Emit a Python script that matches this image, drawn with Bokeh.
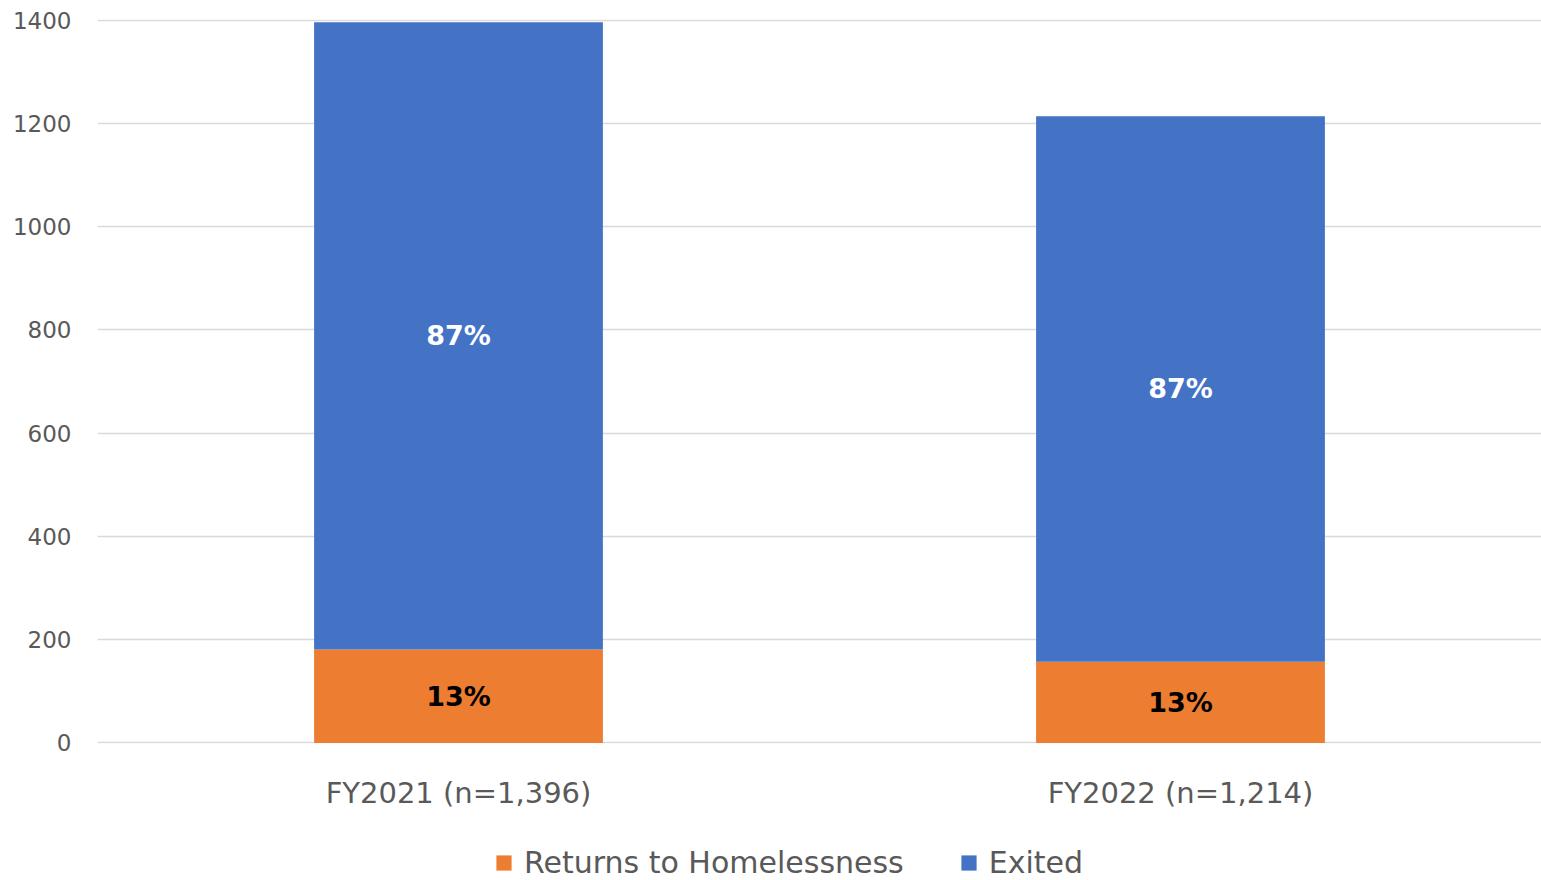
from bokeh.plotting import figure
from bokeh.layouts import column
from bokeh.models import ColumnDataSource, Legend, LegendItem, FactorRange, Range1d, FixedTicker
from bokeh.embed import file_html
from bokeh.resources import INLINE
from bokeh.core.properties import value

# ---- data ----
categories = ["FY2021 (n=1,396)", "FY2022 (n=1,214)"]
returns_to_homelessness = [181, 157]
exited = [1215, 1057]
series_names = ["Returns to Homelessness", "Exited"]
series_colors = ["#ED7D31", "#4472C4"]
y_tick_values = [0, 200, 400, 600, 800, 1000, 1200, 1400]

totals = [r + e for r, e in zip(returns_to_homelessness, exited)]
source = ColumnDataSource(dict(
    cat=categories,
    returns=returns_to_homelessness,
    exited=exited,
    ret_mid=[r / 2 for r in returns_to_homelessness],
    ex_mid=[r + e / 2 for r, e in zip(returns_to_homelessness, exited)],
    ret_lbl=[f"{round(100 * r / t)}%" for r, t in zip(returns_to_homelessness, totals)],
    ex_lbl=[f"{round(100 * e / t)}%" for e, t in zip(exited, totals)],
))

FONT = "DejaVu Sans"
GREY = "#595959"

# ---- main chart ----
p = figure(
    x_range=FactorRange(*categories, range_padding=0, factor_padding=0),
    y_range=Range1d(-1.2, 1401.2),
    width=1541, height=846,
    output_backend="svg", toolbar_location=None,
    min_border_left=97, min_border_right=0, min_border_top=19, min_border_bottom=103,
)
p.outline_line_color = None
p.background_fill_color = "white"
p.border_fill_color = "white"

p.vbar_stack(["returns", "exited"], x="cat", width=0.4, color=series_colors,
             line_color=None, source=source)

p.text(x="cat", y="ret_mid", text="ret_lbl", source=source, text_align="center",
       text_baseline="middle", text_color="black", text_font=value(FONT),
       text_font_style="bold", text_font_size="27px")
p.text(x="cat", y="ex_mid", text="ex_lbl", source=source, text_align="center",
       text_baseline="middle", text_color="white", text_font=value(FONT),
       text_font_style="bold", text_font_size="27px")

p.xgrid.grid_line_color = None
p.ygrid.grid_line_color = "#D9D9D9"
p.ygrid.grid_line_width = 1.5
p.yaxis.ticker = FixedTicker(ticks=y_tick_values)
for ax in (p.xaxis[0], p.yaxis[0]):
    ax.axis_line_color = None
    ax.major_tick_line_color = None
    ax.minor_tick_line_color = None
    ax.major_tick_out = 0
    ax.major_label_text_font = FONT
    ax.major_label_text_color = GREY
p.yaxis.major_label_text_font_size = "23px"
p.yaxis.major_label_standoff = 26
p.xaxis.major_label_text_font_size = "29px"
p.xaxis.major_label_standoff = 32

# ---- legend strip: zero-width proxy bars of the same series supply the swatches ----
lg = figure(
    width=1541, height=34,
    x_range=FactorRange(*categories, range_padding=0, factor_padding=0),
    y_range=Range1d(0, 1400),
    output_backend="svg", toolbar_location=None,
    x_axis_location=None, y_axis_location=None,
    min_border_left=0, min_border_right=0, min_border_top=0, min_border_bottom=0,
)
lg.outline_line_color = None
lg.grid.grid_line_color = None
lg.background_fill_color = "white"
lg.border_fill_color = "white"
swatches = lg.vbar_stack(["returns", "exited"], x="cat", width=0, color=series_colors,
                         line_color=None, source=source)

legend = Legend(
    items=[LegendItem(label=n, renderers=[r]) for n, r in zip(series_names, swatches)],
    orientation="horizontal",
    location=(397, 0),
    glyph_width=19, glyph_height=19,
    label_standoff=11, spacing=55,
    label_text_font=FONT, label_text_font_size="30px", label_text_color=GREY,
    padding=0, margin=0,
    border_line_color=None, background_fill_alpha=0,
)
lg.add_layout(legend, "center")

layout = column(p, lg, spacing=0)
open("out.html", "w").write(file_html(layout, INLINE))
